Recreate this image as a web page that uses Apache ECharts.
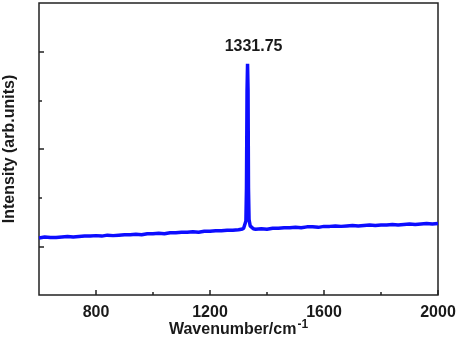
<!DOCTYPE html>
<html>
<head>
<meta charset="utf-8">
<script src="https://cdn.jsdelivr.net/npm/echarts@6/dist/echarts.min.js"></script>
<style>
  html, body { margin: 0; padding: 0; background: #fff; }
  #chart { width: 457px; height: 337px; }
</style>
</head>
<body>
<div id="chart"></div>
<script>
// wavenumber (cm-1) and intensity (arb.)
const wavenumbers = [
  600, 620, 640, 660, 680, 700, 720, 740, 760, 780,
  800, 820, 840, 860, 880, 900, 920, 940, 960, 980,
  1000, 1020, 1040, 1060, 1080, 1100, 1120, 1140, 1160, 1180,
  1200, 1220, 1240, 1260, 1280, 1300,
  1310, 1318, 1322, 1326, 1328, 1330, 1331.75, 1333.5, 1335, 1337, 1341, 1345, 1352,
  1360, 1380, 1400, 1420, 1440, 1460, 1480, 1500, 1520, 1540,
  1560, 1580, 1600, 1620, 1640, 1660, 1680, 1700, 1720, 1740,
  1760, 1780, 1800, 1820, 1840, 1860, 1880, 1900, 1920, 1940,
  1960, 1980, 2000
];
const intensity = [
  1.17, 1.19, 1.18, 1.18, 1.19, 1.20, 1.19, 1.20, 1.21, 1.21,
  1.22, 1.21, 1.23, 1.22, 1.23, 1.24, 1.24, 1.25, 1.24, 1.26,
  1.26, 1.27, 1.26, 1.28, 1.28, 1.29, 1.29, 1.30, 1.29, 1.31,
  1.31, 1.32, 1.32, 1.33, 1.33, 1.34,
  1.35, 1.37, 1.40, 1.52, 2.20, 4.20, 4.75, 4.20, 2.20, 1.55, 1.42, 1.38, 1.36,
  1.35, 1.36, 1.35, 1.37, 1.37, 1.38, 1.38, 1.39, 1.38, 1.40,
  1.40, 1.39, 1.41, 1.41, 1.42, 1.41, 1.42, 1.43, 1.42, 1.43,
  1.44, 1.43, 1.44, 1.44, 1.45, 1.44, 1.45, 1.46, 1.45, 1.46,
  1.47, 1.46, 1.47
];
const xMajorTicks = [800, 1200, 1600, 2000];
const xMinorTicks = [1000, 1400, 1800];
const yMajorTicks = [1, 3, 5];
const yMinorTicks = [2, 4];
const peakLabel = '1331.75';

const font = 'Arial, "Liberation Sans", sans-serif';
const ink = '#1a1a1a';

let chart = echarts.init(document.getElementById('chart'));

let option = {
  backgroundColor: '#fff',
  animation: false,
  grid: {
    left: 39, right: 19, top: 3, bottom: 42,
    outerBoundsMode: 'none',
    containLabel: false,
    show: true,
    borderColor: '#222',
    borderWidth: 1.5,
    backgroundColor: 'transparent'
  },
  xAxis: [
    {
      type: 'value', min: 600, max: 2000,
      axisLine: { show: false },
      splitLine: { show: false },
      axisTick: { inside: true, length: 5, customValues: xMajorTicks, lineStyle: { color: '#222', width: 1.5 } },
      axisLabel: {
        customValues: xMajorTicks, margin: 10, formatter: v => String(v),
        color: ink, fontFamily: font, fontWeight: 'bold', fontSize: 16
      },
      name: '{a|Wavenumber/cm}{s|-1}',
      nameLocation: 'middle',
      nameGap: 24,
      nameMoveOverlap: false,
      nameTextStyle: {
        rich: {
          a: { fontFamily: font, fontWeight: 'bold', fontSize: 16, color: ink },
          s: { fontFamily: font, fontWeight: 'bold', fontSize: 12, color: ink, padding: [0, 0, 10, 1] }
        }
      }
    },
    {
      type: 'value', min: 600, max: 2000, position: 'bottom',
      axisLine: { show: false },
      splitLine: { show: false },
      axisTick: { inside: true, length: 3, customValues: xMinorTicks, lineStyle: { color: '#222', width: 1.5 } },
      axisLabel: { show: false }
    }
  ],
  yAxis: [
    {
      type: 'value', min: 0, max: 6,
      axisLine: { show: false },
      splitLine: { show: false },
      axisTick: { show: true, inside: true, length: 5, customValues: yMajorTicks, lineStyle: { color: '#222', width: 1.5 } },
      axisLabel: { show: false },
      name: 'Intensity (arb.units)',
      nameLocation: 'middle',
      nameGap: 21,
      nameMoveOverlap: false,
      nameTextStyle: { fontFamily: font, fontWeight: 'bold', fontSize: 16, color: ink }
    },
    {
      type: 'value', min: 0, max: 6, position: 'left',
      axisLine: { show: false },
      splitLine: { show: false },
      axisTick: { show: true, inside: true, length: 3, customValues: yMinorTicks, lineStyle: { color: '#222', width: 1.5 } },
      axisLabel: { show: false }
    }
  ],
  series: [
    {
      type: 'line',
      data: wavenumbers.map((x, i) => [x, intensity[i]]),
      showSymbol: false,
      lineStyle: { color: '#0d0dff', width: 3.5 },
      markPoint: {
        symbol: 'circle',
        symbolSize: 0,
        data: [{ coord: [1331.75, 4.75] }],
        label: {
          show: true, position: 'top', offset: [6, -4],
          formatter: peakLabel,
          color: ink, fontFamily: font, fontWeight: 'bold', fontSize: 16
        }
      }
    }
  ]
};

chart.setOption(option);
</script>
</body>
</html>
